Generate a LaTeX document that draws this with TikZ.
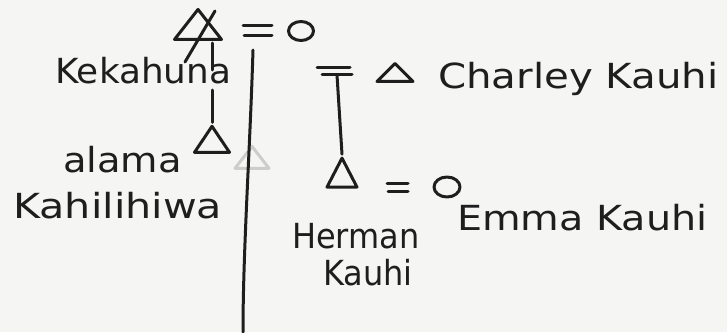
\documentclass[tikz,border=0pt]{standalone}
\usepackage{fontspec}
\setmainfont{DejaVu Sans}
\usetikzlibrary{shapes.geometric}
\definecolor{paper}{RGB}{245,245,243}
\definecolor{ink}{RGB}{30,30,30}
\definecolor{ghost}{RGB}{205,205,205}
\tikzset{
  pen/.style={draw=ink, line width=3pt, line cap=round, line join=round},
  tri/.style={isosceles triangle, shape border rotate=90, isosceles triangle stretches,
    inner sep=0pt, pen},
  fem/.style={ellipse, inner sep=0pt, pen},
  hand/.style={font=\fontsize{32}{36}\selectfont, text=ink, inner sep=0pt, anchor=base west, yscale=1.08}
}
\begin{document}
\begin{tikzpicture}[x=1pt,y=-1pt]
\fill[paper] (0,0) rectangle (727,332);
\useasboundingbox (0,0) rectangle (727,332);

% top couple
\node[tri, minimum width=47pt, minimum height=30pt] (kek) at (198,28) {};
\coordinate (s1) at (215,11);
\coordinate (s2) at (185,62);
\draw[pen] (s1) -- (s2);
\coordinate (e1a) at (243,25); \coordinate (e1b) at (272,25);
\coordinate (e1c) at (244,35); \coordinate (e1d) at (272,35);
\draw[pen] (e1a) -- (e1b); \draw[pen] (e1c) -- (e1d);
\node[fem, minimum width=25pt, minimum height=19pt] (o1) at (301,31) {};

% descent to alama
\node[tri, minimum width=35pt, minimum height=26pt] (ala) at (212,143) {};
\coordinate (kb) at (212,43);
\coordinate (g1) at (212,70);
\coordinate (g2) at (212,90);
\draw[pen] (kb) -- (g1);
\draw[pen] (g2) -- (ala.apex);

% ghost mark
\node[tri, draw=ghost, minimum width=34pt, minimum height=22pt] (gh) at (252,160) {};

% long line of descent
\coordinate (d1) at (253,50);
\coordinate (d2) at (243,332);
\draw[pen] (d1) .. controls (250,150) and (243,250) .. (d2);

% second couple
\coordinate (e2a) at (317,67); \coordinate (e2b) at (350,67);
\coordinate (e2c) at (322,74); \coordinate (e2d) at (352,74);
\draw[pen] (e2a) -- (e2b); \draw[pen] (e2c) -- (e2d);
\node[tri, minimum width=36pt, minimum height=18pt] (cha) at (395,74) {};
\coordinate (e2m) at (337,75);
\node[tri, minimum width=30pt, minimum height=29pt] (her) at (342,178) {};
\draw[pen] (e2m) -- (her.apex);

% third couple
\coordinate (e3a) at (387,183); \coordinate (e3b) at (408,183);
\coordinate (e3c) at (388,191); \coordinate (e3d) at (408,191);
\draw[pen] (e3a) -- (e3b); \draw[pen] (e3c) -- (e3d);
\node[fem, minimum width=26pt, minimum height=20pt] (o2) at (447,187) {};

% names
\node[hand, xscale=1.12] (tkek) at (55,83) {Kekahuna};
\node[hand, xscale=1.2] (tala) at (63,172) {alama};
\node[hand, xscale=1.29] (tkah) at (13,218) {Kahilihiwa};
\node[hand, xscale=1.26] (tcha) at (438,88) {Charley Kauhi};
\node[hand, xscale=1.24] (temm) at (457,230) {Emma Kauhi};
\node[hand] (ther) at (292,248) {Herman};
\node[hand] (tkau) at (323,285) {Kauhi};
\end{tikzpicture}
\end{document}
